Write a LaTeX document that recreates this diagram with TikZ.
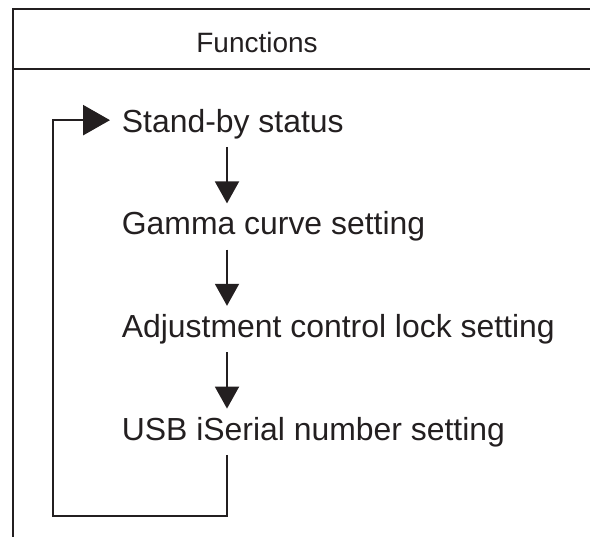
\documentclass[tikz,border=0pt]{standalone}
\usepackage{fontspec}
\setmainfont{Liberation Sans}
\usetikzlibrary{arrows.meta}
\definecolor{InkBlack}{RGB}{35, 31, 32}

\begin{document}
\begin{tikzpicture}[
                frame/.style={InkBlack, line width=1.4pt},
                divider/.style={InkBlack, line width=0.8pt},
                func/.style={anchor=base west, inner xsep=0.29cm, inner ysep=0.2cm, text=InkBlack, font=\fontsize{22.7}{27}\selectfont},
                flow/.style={-{Triangle[length=0.55cm, width=0.6cm]}, line width=1.4pt, InkBlack},
                back/.style={-{Triangle[length=0.675cm, width=0.75cm]}, line width=1.9pt, InkBlack}
            ]
                \useasboundingbox (0, 0) rectangle (14.75, -13.425);

                % Table frame
                \draw[frame] (14.75, -0.225) -- (0.325, -0.225) -- (0.325, -13.425);
                \draw[divider] (0.325, -1.725) -- (14.75, -1.725);
                \node[text=InkBlack, font=\fontsize{19.9}{24}\selectfont] (head) at (6.425, -1.075) {Functions};

                % Function list
                \node[func] (standby) at (2.75, -3.3) {Stand-by status};
                \node[func] (gamma) at (2.75, -5.87) {Gamma curve setting};
                \node[func] (lock) at (2.75, -8.43) {Adjustment control lock setting};
                \node[func] (serial) at (2.75, -11.0) {USB iSerial number setting};

                % Arrow axis and return path corner
                \coordinate (axis) at (5.675, 0);
                \coordinate (corner) at (1.325, -12.9);

                % Sequence
                \draw[flow] (standby.south -| axis) -- (gamma.north -| axis);
                \draw[flow] (gamma.south -| axis) -- (lock.north -| axis);
                \draw[flow] (lock.south -| axis) -- (serial.north -| axis);

                % Back to the start
                \draw[back] (serial.south -| axis) |- (corner) |- ([yshift=0.09cm]standby.west);
            \end{tikzpicture}
\end{document}
